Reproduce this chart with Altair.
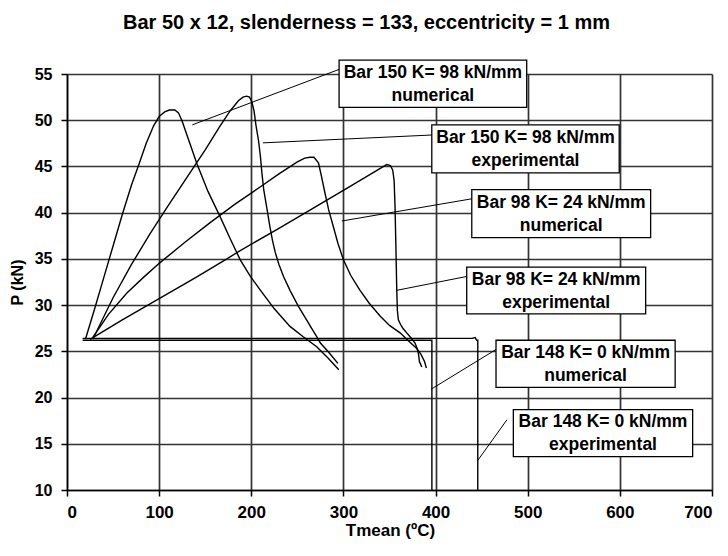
import altair as alt
import pandas as pd

# ---- curve data (Tmean in degC, P in kN) ----
b150_num_T = [20, 30, 40, 50, 60, 70, 78, 86, 94, 100, 106, 111, 117, 121, 125, 133, 141, 153, 166, 177, 188, 199, 210, 225, 242, 256, 271, 283, 295]
b150_num_P = [26.3, 29.6, 33.0, 36.4, 39.8, 43.0, 45.2, 47.5, 49.4, 50.4, 50.9, 51.1, 51.1, 50.8, 49.9, 47.6, 45.3, 42.3, 39.6, 37.2, 34.9, 33.1, 31.6, 29.6, 27.7, 26.6, 25.5, 24.3, 23.0]

b150_exp_T = [28, 50, 70, 90, 110, 130, 150, 165, 177, 186, 191, 195, 198, 200.6, 203, 205, 208, 210, 211.5, 213.5, 216.9, 220, 223, 226, 230, 235, 242, 251, 260, 266, 271, 275, 284, 294]
b150_exp_P = [26.3, 30.8, 34.4, 37.7, 40.8, 43.8, 46.8, 49.2, 51.0, 52.1, 52.5, 52.6, 52.5, 52.0, 51.0, 49.5, 47.7, 46.0, 44.3, 42.5, 40.5, 38.6, 37.0, 35.7, 34.4, 33.1, 31.6, 29.9, 28.4, 27.4, 26.6, 25.9, 24.9, 23.7]

b98_num_T = [28, 45, 65, 83, 101, 128, 155, 182, 210, 230, 250, 258, 263.8, 268, 272.9, 276, 280, 284, 289, 294, 300, 308, 318, 328, 340, 350, 361.5, 371, 379.6, 384, 388, 390]
b98_num_P = [26.5, 29.0, 31.3, 33.0, 34.6, 36.8, 38.9, 40.9, 42.8, 44.2, 45.5, 45.9, 46.0, 46.0, 45.4, 44.0, 42.1, 40.3, 38.5, 36.7, 34.9, 33.2, 31.6, 30.2, 28.8, 27.8, 27.0, 26.1, 25.3, 24.7, 23.9, 23.2]

b98_exp_T = [25, 60, 100, 140, 173.5, 188, 230, 271, 305, 330, 340, 347, 351, 353.5, 355, 356, 356.8, 357.5, 357.9, 358.5, 359.6, 362, 364.5, 368.7, 373, 377.7, 380, 381.5, 382.5, 385]
b98_exp_P = [26.3, 28.4, 30.7, 33.0, 35.0, 35.9, 38.3, 40.7, 42.7, 44.2, 44.8, 45.2, 45.1, 44.6, 43.5, 40.7, 37.0, 33.5, 31.6, 29.5, 28.4, 27.9, 27.5, 27.0, 26.5, 25.9, 25.3, 24.7, 23.9, 23.3]

b148_num_T = [17, 200, 396, 396]
b148_num_P = [26.2, 26.2, 26.2, 10.0]

b148_exp_T = [17, 250, 439.7, 443, 444.6, 445.8, 445.8]
b148_exp_P = [26.4, 26.4, 26.4, 26.5, 26.2, 26.2, 10.0]

series_names = ["Bar 150 num", "Bar 150 exp", "Bar 98 num", "Bar 98 exp", "Bar 148 num", "Bar 148 exp"]
series_T = [b150_num_T, b150_exp_T, b98_num_T, b98_exp_T, b148_num_T, b148_exp_T]
series_P = [b150_num_P, b150_exp_P, b98_num_P, b98_exp_P, b148_num_P, b148_exp_P]

# ---- annotation boxes (data coords) ----
box_line1 = ["Bar 150 K= 98 kN/mm", "Bar 150 K= 98 kN/mm", "Bar 98 K= 24 kN/mm",
             "Bar 98 K= 24 kN/mm", "Bar 148 K= 0 kN/mm", "Bar 148 K= 0 kN/mm"]
box_line2 = ["numerical", "experimental", "numerical", "experimental", "numerical", "experimental"]
box_x1 = [295.3, 395.9, 439.3, 433.8, 465.6, 484.4]
box_x2 = [498.9, 599.3, 633.4, 628.0, 660.0, 679.0]
box_y1 = [56.5, 49.5, 42.5, 34.1, 26.2, 18.7]
box_y2 = [51.4, 44.3, 37.3, 29.05, 21.1, 13.6]

# leader lines: from curve point to box
lead_x1 = [136.0, 212.6, 298.3, 357.9, 395.1, 445.8]
lead_y1 = [49.5, 47.55, 39.1, 31.6, 20.9, 13.2]
lead_x2 = [295.3, 395.9, 439.3, 433.8, 465.6, 477.5]
lead_y2 = [55.5, 48.4, 41.5, 33.1, 25.2, 17.6]

rows = []
for name, Ts, Ps in zip(series_names, series_T, series_P):
    for i, (t, p) in enumerate(zip(Ts, Ps)):
        rows.append({"series": name, "T": t, "P": p, "idx": i})
df = pd.DataFrame(rows)

boxes = pd.DataFrame({
    "l1": box_line1, "l2": box_line2,
    "x1": box_x1, "x2": box_x2, "y1": box_y1, "y2": box_y2,
})
boxes["xc"] = (boxes.x1 + boxes.x2) / 2
boxes["yc"] = (boxes.y1 + boxes.y2) / 2

leads = pd.DataFrame({"x1": lead_x1, "y1": lead_y1, "x2": lead_x2, "y2": lead_y2})

FONT = "Liberation Sans"
xs = alt.Scale(domain=[0, 700], nice=False, zero=False)
ys = alt.Scale(domain=[10, 55], nice=False, zero=False)
x_axis = alt.Axis(values=list(range(0, 701, 100)), title="Tmean (ºC)",
                  labelFontSize=17, labelPadding=8, titleFontSize=17,
                  titleX=323, titleY=40, titleBaseline="middle", titleAlign="center")
y_axis = alt.Axis(values=list(range(10, 56, 5)), title="P (kN)",
                  labelFontSize=16, labelPadding=9, titleFontSize=16,
                  titleX=-50, titleY=208, titleBaseline="middle", titleAlign="center",
                  titleAngle=-90)


def X(f):
    return alt.X(f, scale=xs, axis=x_axis)


def Y(f):
    return alt.Y(f, scale=ys, axis=y_axis)


lines = alt.Chart(df).mark_line(color="black", strokeWidth=1.4).encode(
    x=X("T:Q"), y=Y("P:Q"), detail="series:N", order="idx:Q",
)

rules = alt.Chart(leads).mark_rule(color="black", strokeWidth=1).encode(
    x=X("x1:Q"), y=Y("y1:Q"), x2="x2:Q", y2="y2:Q",
)

rects = alt.Chart(boxes).mark_rect(fill="white", stroke="black", strokeWidth=1.3).encode(
    x=X("x1:Q"), x2="x2:Q", y=Y("y1:Q"), y2="y2:Q",
)

txt_kw = dict(font=FONT, fontSize=17.5, fontWeight="bold", color="black",
              align="center", baseline="middle")
text1 = alt.Chart(boxes).mark_text(dy=-11, **txt_kw).encode(
    x=X("xc:Q"), y=Y("yc:Q"), text="l1:N",
)
text2 = alt.Chart(boxes).mark_text(dy=12, **txt_kw).encode(
    x=X("xc:Q"), y=Y("yc:Q"), text="l2:N",
)

chart = alt.layer(lines, rules, rects, text1, text2).properties(
    width=645, height=416,
    autosize=alt.AutoSizeParams(type="none"),
    padding={"left": 67, "top": 74, "right": 16, "bottom": 66},
    title=alt.TitleParams(
        "Bar 50 x 12, slenderness = 133, eccentricity = 1 mm",
        font=FONT, fontSize=20, fontWeight="bold", color="black",
        anchor="middle", dx=-23, offset=26,
    ),
).configure_view(stroke=None).configure_axis(
    labelFont=FONT, labelFontWeight="bold", labelColor="black",
    titleFont=FONT, titleFontWeight="bold", titleColor="black",
    domainColor="black", domainWidth=1.5, tickColor="black", tickWidth=1.5, tickSize=6,
    gridColor="#333333", gridWidth=1.7, gridOpacity=1,
)

chart.save("out.html", embed_options={"renderer": "svg", "actions": False})
